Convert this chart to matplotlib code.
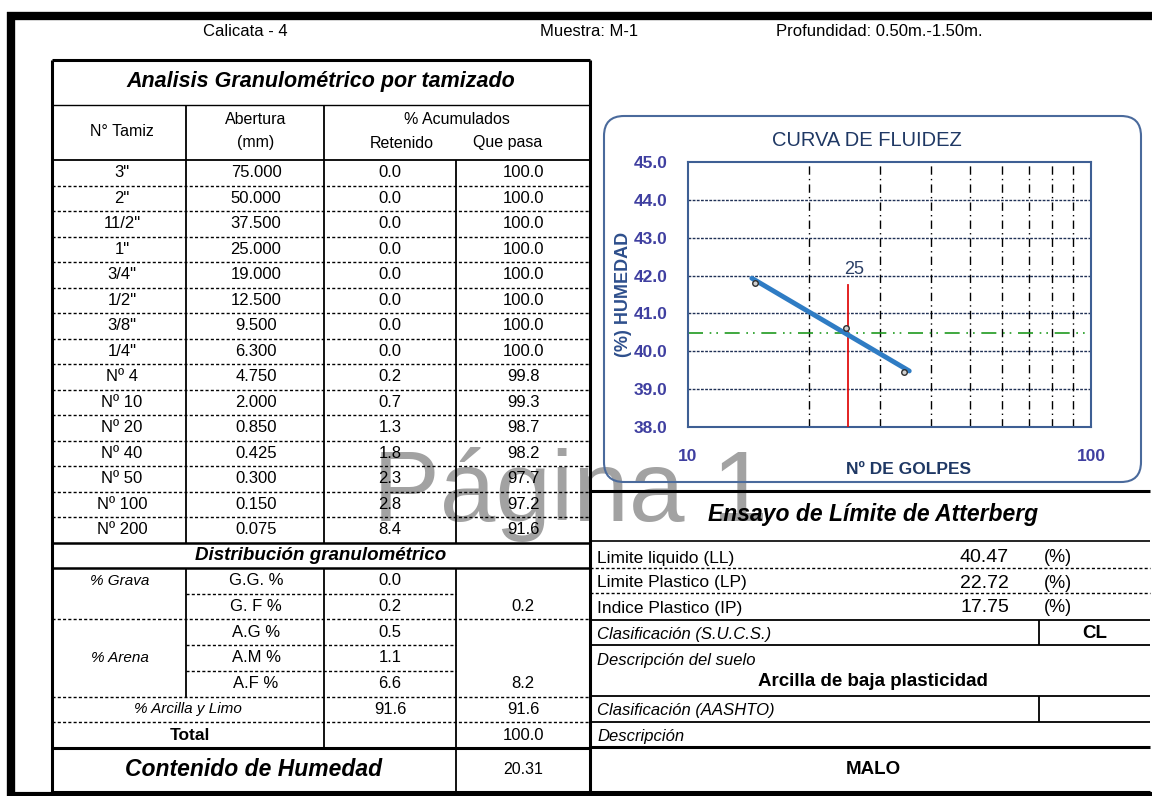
import numpy as np
import matplotlib
matplotlib.use("Agg")
import matplotlib.pyplot as plt
from matplotlib.patches import FancyBboxPatch

plt.rcParams['font.family'] = ['Liberation Sans', 'DejaVu Sans']

# ---- datos de la hoja ----
calicata = "Calicata - 4"
muestra = "Muestra: M-1"
profundidad = "Profundidad: 0.50m.-1.50m."

tamiz = ['3"', '2"', '11/2"', '1"', '3/4"', '1/2"', '3/8"', '1/4"',
         'Nº 4', 'Nº 10', 'Nº 20', 'Nº 40', 'Nº 50', 'Nº 100', 'Nº 200']
abertura = [75.0, 50.0, 37.5, 25.0, 19.0, 12.5, 9.5, 6.3,
            4.75, 2.0, 0.85, 0.425, 0.3, 0.15, 0.075]
retenido = [0.0, 0.0, 0.0, 0.0, 0.0, 0.0, 0.0, 0.0,
            0.2, 0.7, 1.3, 1.8, 2.3, 2.8, 8.4]
que_pasa = [100.0, 100.0, 100.0, 100.0, 100.0, 100.0, 100.0, 100.0,
            99.8, 99.3, 98.7, 98.2, 97.7, 97.2, 91.6]

dist_labels = ['G.G. %', 'G. F %', 'A.G %', 'A.M %', 'A.F %']
dist_vals = [0.0, 0.2, 0.5, 1.1, 6.6]
grava_total = 0.2
arena_total = 8.2
finos = 91.6
total = 100.0
humedad_natural = 20.31

ll, lp, ip = 40.47, 22.72, 17.75
sucs = "CL"
descripcion = "Arcilla de baja plasticidad"
calidad = "MALO"

# curva de fluidez
golpes = [14.7, 24.6, 34.3]
humedad = [41.80, 40.62, 39.45]
fit_golpes = [14.4, 35.4]
fit_humedad = [41.93, 39.48]
golpes_ref = 25
ref_top = 41.75

# ---- figura ----
fig = plt.figure(figsize=(11.52, 7.96), dpi=100)
ax = fig.add_axes([0, 0, 1, 1])
ax.set_xlim(0, 1152)
ax.set_ylim(796, 0)
ax.axis('off')

DOT = (0, (2.2, 1.6))


def hl(y, x0, x1, lw=1.0, ls='-', c='black'):
    ax.plot([x0, x1], [y, y], color=c, lw=lw, ls=ls, solid_capstyle='butt')


def vl(x, y0, y1, lw=1.0, ls='-', c='black'):
    ax.plot([x, x], [y0, y1], color=c, lw=lw, ls=ls, solid_capstyle='butt')


def tx(x, y, s, size=12, ha='center', **kw):
    ax.text(x, y, s, fontsize=size, ha=ha, va='center', **kw)


# marco exterior
hl(16, 7, 1152, lw=6)
vl(11, 12, 796, lw=6)
hl(794, 7, 1152, lw=3)

# encabezado
tx(245, 32, calicata)
tx(540, 32, muestra, ha='left')
tx(776, 32, profundidad, ha='left')

# marca de agua
ax.text(570, 494, "Página 1", fontsize=72, color='#a2a2a2', ha='center',
        va='center', zorder=0)

# ---- tabla granulométrica ----
X0, C1, C2, C3, X1 = 52, 186, 324, 456, 590
Y0 = 60
hl(Y0, X0, X1, lw=2.2)
vl(X0, Y0, 793, lw=2.2)
vl(X1, Y0, 793, lw=2.2)
hl(792, X0, 1150, lw=2.2)

tx(321, 82, "Analisis Granulométrico por tamizado", size=15.5,
   weight='bold', style='italic')
hl(105, X0, X1, lw=1.0)
tx(122, 132, "N° Tamiz", size=11.5)
tx(256, 119, "Abertura", size=11.5)
tx(256, 143, "(mm)", size=11.5)
tx(457, 119, "% Acumulados", size=11.5)
tx(402, 143, "Retenido", size=11.5)
tx(508, 143, "Que pasa", size=11.5)

row_top = 160
rh = 25.5
hl(row_top, X0, X1, lw=1.3)
n = len(tamiz)
for i in range(n):
    yc = row_top + rh * (i + 0.5)
    tx(122, yc, tamiz[i], size=12)
    tx(256, yc, "%.3f" % abertura[i], size=12)
    tx(390, yc, "%.1f" % retenido[i], size=12)
    tx(523, yc, "%.1f" % que_pasa[i], size=12)
    if i > 0:
        hl(row_top + rh * i, X0, X1, lw=1.0, ls=DOT)
sieve_bottom = row_top + rh * n
vl(C1, 105, sieve_bottom, lw=1.3)
vl(C2, 105, sieve_bottom, lw=1.3)
vl(C3, row_top, sieve_bottom, lw=1.3)
hl(sieve_bottom, X0, X1, lw=1.8)

# distribución granulométrica
tx(321, 555, "Distribución granulométrico", size=13.5, weight='bold',
   style='italic')
d0 = 568
dh = 25.7
hl(d0, X0, X1, lw=1.8)
for i, (lab, v) in enumerate(zip(dist_labels, dist_vals)):
    yc = d0 + dh * (i + 0.5)
    tx(256, yc, lab, size=12)
    tx(390, yc, "%.1f" % v, size=12)
tx(120, d0 + dh * 0.5, "% Grava", size=11, style='italic')
tx(120, d0 + dh * 3.5, "% Arena", size=11, style='italic')
tx(523, d0 + dh * 1.5, "%.1f" % grava_total, size=12)
tx(523, d0 + dh * 4.5, "%.1f" % arena_total, size=12)
tx(188, d0 + dh * 5.5, "% Arcilla y Limo", size=11, style='italic')
tx(390, d0 + dh * 5.5, "%.1f" % finos, size=12)
tx(523, d0 + dh * 5.5, "%.1f" % finos, size=12)
tx(190, d0 + dh * 6.5, "Total", size=12.5, weight='bold')
tx(523, d0 + dh * 6.5, "%.1f" % total, size=12)

for k in [1, 3, 4]:
    hl(d0 + dh * k, C1, C3, lw=1.0, ls=DOT)
for k in [2, 5, 6]:
    hl(d0 + dh * k, X0, X1, lw=1.0, ls=DOT)
d_end = d0 + dh * 7
vl(C1, d0, d0 + dh * 5, lw=1.3)
vl(C2, d0, d_end, lw=1.3)
vl(C3, d0, 792, lw=1.3)
hl(d_end, X0, X1, lw=2.2)

tx(254, 770, "Contenido de Humedad", size=16.5, weight='bold', style='italic')
tx(523, 770, "%.2f" % humedad_natural, size=11.5)

# ---- tabla Atterberg ----
R0, R1 = 590, 1150
hl(491, R0, R1, lw=2.2)
tx(873, 515, "Ensayo de Límite de Atterberg", size=16.5, weight='bold',
   style='italic')
hl(541, R0, R1, lw=1.2)
lim_labels = ["Limite liquido (LL)", "Limite Plastico (LP)",
              "Indice Plastico (IP)"]
lim_vals = [ll, lp, ip]
for i, (lab, v) in enumerate(zip(lim_labels, lim_vals)):
    yc = 558 + 25 * i
    tx(597, yc, lab, size=12.5, ha='left')
    tx(1009, yc, "%.2f" % v, size=14, ha='right')
    tx(1044, yc, "(%)", size=13, ha='left')
hl(568, R0, R1, lw=1.0, ls=DOT)
hl(593, R0, R1, lw=1.0, ls=DOT)
hl(620, R0, R1, lw=1.3)
tx(597, 634, "Clasificación (S.U.C.S.)", size=12, ha='left', style='italic')
tx(1095, 633, sucs, size=13.5, weight='bold')
vl(1039, 620, 645, lw=1.3)
hl(645, R0, R1, lw=1.3)
tx(597, 661, "Descripción del suelo", size=12, ha='left', style='italic')
tx(873, 682, descripcion, size=13.5, weight='bold')
hl(696, R0, R1, lw=1.3)
tx(597, 710, "Clasificación (AASHTO)", size=12, ha='left', style='italic')
vl(1039, 696, 722, lw=1.3)
hl(722, R0, R1, lw=1.3)
tx(597, 736, "Descripción", size=12, ha='left', style='italic')
hl(747, R0, R1, lw=2.2)
tx(873, 769, calidad, size=13.5, weight='bold')

# ---- curva de fluidez ----
box = FancyBboxPatch((604, 116), 537, 366,
                     boxstyle="round,pad=0,rounding_size=20",
                     fc='none', ec='#4a6a9c', lw=1.5, zorder=2)
ax.add_patch(box)
tx(867, 141, "CURVA DE FLUIDEZ", size=14.5, color='#1f3864')
ax.text(624, 294, "(%) HUMEDAD", fontsize=13, weight='bold', color='#2e4f8c',
        rotation=90, ha='center', va='center')
tx(908, 470, "Nº DE GOLPES", size=12.5, weight='bold', color='#1f3864')

ax2 = fig.add_axes([688 / 1152, 1 - 427 / 796, 403 / 1152, 265 / 796])
ax2.set_xscale('log')
ax2.set_xlim(10, 100)
ax2.set_ylim(38, 45)
ax2.set_facecolor('none')
for s in ax2.spines.values():
    s.set_color('#3e5f94')
    s.set_linewidth(1.5)
ax2.set_yticks(np.arange(38, 46, 1.0))
ax2.set_yticklabels(["%.1f" % v for v in np.arange(38, 46, 1.0)])
ax2.set_xticks([10, 100])
ax2.set_xticklabels(["10", "100"])
ax2.minorticks_off()
ax2.tick_params(length=0, labelsize=12.5, labelcolor='#3f3fa0')
ax2.tick_params(axis='y', pad=15)
ax2.tick_params(axis='x', pad=16)
for lab in ax2.get_xticklabels() + ax2.get_yticklabels():
    lab.set_fontweight('bold')

for yv in range(39, 45):
    ax2.axhline(yv, color='#1f3055', lw=1.0, ls=(0, (2, 1)), zorder=1)
for xv in range(20, 100, 10):
    ax2.axvline(xv, color='black', lw=1.0, ls=(0, (6, 3, 1, 3)), zorder=1)

ax2.axhline(ll, color='#1f9a1f', lw=1.2, ls=(0, (9, 4, 1, 3, 1, 4)), zorder=2)
ax2.plot([golpes_ref, golpes_ref], [38, ref_top], color='#e01010', lw=1.3,
         zorder=3)
ax2.text(25.9, 42.15, "25", fontsize=13, color='#2b3f66', ha='center',
         va='center')
ax2.plot(fit_golpes, fit_humedad, color='#2f7cc4', lw=3.5,
         solid_capstyle='round', zorder=4)
ax2.plot(golpes, humedad, 'o', ms=4, mfc='#d0d0d0', mec='#303030', mew=1,
         zorder=5)

fig.savefig("out.png", dpi=100)
